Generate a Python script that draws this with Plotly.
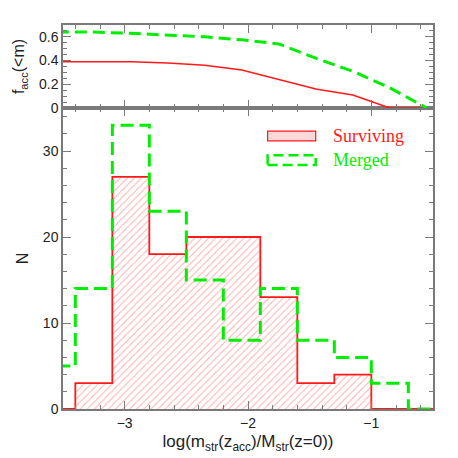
import plotly.graph_objects as go

# ── data ──────────────────────────────────────────────────────────────────────
bin_edges = [-3.7, -3.4, -3.1, -2.8, -2.5, -2.2, -1.9, -1.6, -1.3, -1.0, -0.7, -0.4]
surviving = [0, 3, 27, 18, 20, 20, 13, 3, 4, 0, 0]
merged    = [5, 14, 33, 23, 15, 8, 14, 8, 6, 3, 0]

frac_x         = [-3.55, -3.25, -2.95, -2.65, -2.35, -2.05, -1.75, -1.45, -1.15, -0.85, -0.55]
frac_surviving = [0.39, 0.39, 0.39, 0.38, 0.36, 0.32, 0.24, 0.16, 0.11, 0.0, 0.0]
frac_merged    = [0.64, 0.64, 0.63, 0.615, 0.60, 0.575, 0.54, 0.42, 0.31, 0.17, 0.0]

RED   = "#ff1a1a"
GREEN = "#00ee00"
FRAME = "#7a7a7a"
TEXT  = "#222222"
SANS  = "Liberation Sans, Arial, sans-serif"
SERIF = "Liberation Serif, Times New Roman, serif"

centers = [(a + b) / 2 for a, b in zip(bin_edges[:-1], bin_edges[1:])]
widths  = [b - a for a, b in zip(bin_edges[:-1], bin_edges[1:])]

fig = go.Figure()

# hatched fill of surviving histogram
fig.add_trace(go.Bar(
    x=centers, y=surviving, width=widths,
    marker=dict(color="white", line=dict(width=0),
                pattern=dict(shape="/", fgcolor="rgba(255,30,30,0.75)",
                             bgcolor="white", size=5, solidity=0.18)),
    xaxis="x", yaxis="y", showlegend=False, hoverinfo="skip",
))
# step outlines
fig.add_trace(go.Scatter(
    x=bin_edges, y=surviving + [surviving[-1]],
    mode="lines", line=dict(color=RED, width=1.8, shape="hv"),
    xaxis="x", yaxis="y", showlegend=False,
))
fig.add_trace(go.Scatter(
    x=bin_edges, y=merged + [merged[-1]],
    mode="lines", line=dict(color=GREEN, width=3, shape="hv", dash="13px,6px"),
    xaxis="x", yaxis="y", showlegend=False,
))

# cumulative fractions (top panel)
fig.add_trace(go.Scatter(
    x=frac_x, y=frac_surviving, mode="lines",
    line=dict(color=RED, width=1.6),
    xaxis="x2", yaxis="y2", showlegend=False,
))
fig.add_trace(go.Scatter(
    x=frac_x, y=frac_merged, mode="lines",
    line=dict(color=GREEN, width=3, dash="12px,6px"),
    xaxis="x2", yaxis="y2", showlegend=False,
))

axis_common = dict(
    showline=True, linecolor=FRAME, linewidth=1.5, mirror="ticks",
    ticks="inside", tickcolor=FRAME, tickwidth=1.2, ticklen=8,
    showgrid=False, zeroline=False, automargin=False,
    tickfont=dict(family=SANS, size=14, color=TEXT),
)
minor_x = dict(dtick=0.2, tick0=-3, ticks="inside", ticklen=4, tickcolor=FRAME, tickwidth=1)

# page body adds an 8px offset, so the figure is 450px and margins account for it
split = 301 / 384
fig.update_layout(
    width=450, height=450,
    margin=dict(l=55, r=25, t=17, b=49),
    paper_bgcolor="white", plot_bgcolor="white",
    bargap=0, barmode="overlay",
    xaxis=dict(**axis_common, range=[-3.5, -0.5], anchor="y",
               tickvals=[-3, -2, -1], ticktext=["\u22123", "\u22122", "\u22121"],
               minor=minor_x,
               title=dict(text="log(m<sub>str</sub>(z<sub>acc</sub>)/M<sub>str</sub>(z=0))",
                          font=dict(family=SANS, size=17, color=TEXT), standoff=6)),
    yaxis=dict(**axis_common, range=[0, 35], domain=[0, split], anchor="x",
               tickvals=[0, 10, 20, 30],
               minor=dict(dtick=2, ticks="inside", ticklen=4,
                          tickcolor=FRAME, tickwidth=1),
               title=dict(text="N", font=dict(family=SANS, size=16, color=TEXT),
                          standoff=10)),
    xaxis2=dict(**axis_common, range=[-3.5, -0.5], anchor="y2", matches="x",
                showticklabels=False, tickvals=[-3, -2, -1], minor=minor_x),
    yaxis2=dict(**axis_common, range=[0, 0.7], domain=[split, 1], anchor="x2",
                tickvals=[0, 0.2, 0.4, 0.6], ticktext=["0", "0.2", "0.4", "0.6"],
                minor=dict(dtick=0.05, ticks="inside", ticklen=4,
                           tickcolor=FRAME, tickwidth=1),
                title=dict(text="f<sub>acc</sub>(<m)",
                           font=dict(family=SANS, size=16, color=TEXT), standoff=10)),
)

# hand-drawn legend (boxes + labels) in the lower panel
fig.add_shape(type="rect", xref="x domain", yref="y domain",
              x0=0.553, x1=0.683, y0=0.891, y1=0.923,
              line=dict(color=RED, width=1.2), fillcolor="rgba(255,60,60,0.2)")
fig.add_shape(type="rect", xref="x domain", yref="y domain",
              x0=0.553, x1=0.683, y0=0.811, y1=0.843,
              line=dict(color=GREEN, width=2.5, dash="10px,5px"))
fig.add_annotation(text="Surviving", xref="x domain", yref="y domain",
                   x=0.725, y=0.907, xanchor="left", yanchor="middle",
                   showarrow=False, font=dict(family=SERIF, size=18, color=RED))
fig.add_annotation(text="Merged", xref="x domain", yref="y domain",
                   x=0.725, y=0.827, xanchor="left", yanchor="middle",
                   showarrow=False, font=dict(family=SERIF, size=18, color=GREEN))

fig.write_html("out.html")
